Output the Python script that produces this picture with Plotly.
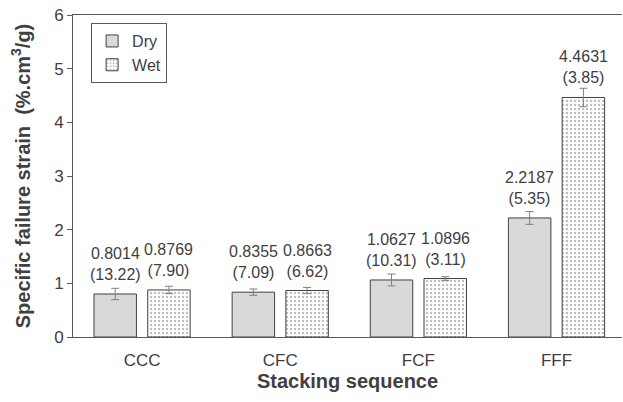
import plotly.graph_objects as go

categories = ["CCC", "CFC", "FCF", "FFF"]
dry_mean = [0.8014, 0.8355, 1.0627, 2.2187]
wet_mean = [0.8769, 0.8663, 1.0896, 4.4631]
dry_cv = ["13.22", "7.09", "10.31", "5.35"]
wet_cv = ["7.90", "6.62", "3.11", "3.85"]
dry_err = [0.106, 0.059, 0.110, 0.119]
wet_err = [0.069, 0.057, 0.034, 0.172]
y_ticks = [0, 1, 2, 3, 4, 5, 6]

FONT = "Arial, Liberation Sans, sans-serif"
TXT = "#404040"
AX = "#595959"
BARGAP = 0.222
BARGROUPGAP = 0.21

fig = go.Figure()
fig.add_trace(go.Bar(
    name="Dry", x=categories, y=dry_mean,
    marker=dict(color="#d9d9d9", line=dict(color="#404040", width=1)),
    error_y=dict(type="data", array=dry_err, visible=True, color="#7f7f7f", thickness=1, width=4),
))
fig.add_trace(go.Bar(
    name="Wet", x=categories, y=wet_mean,
    marker=dict(color="white", line=dict(color="#404040", width=1),
                pattern=dict(shape=".", fgcolor="#808080", bgcolor="white", size=4, solidity=0.3)),
    error_y=dict(type="data", array=wet_err, visible=True, color="#7f7f7f", thickness=1, width=4),
))

off = (1 - BARGAP) / 4
annotations = []
for i, c in enumerate(categories):
    for sgn, m, cv in ((-1, dry_mean[i], dry_cv[i]), (1, wet_mean[i], wet_cv[i])):
        annotations.append(dict(
            x=i + sgn * off, y=m, xref="x", yref="y",
            text=f"{m:.4f}<br>({cv})", showarrow=False,
            yanchor="bottom", yshift=9,
            font=dict(family=FONT, size=16, color=TXT),
        ))

fig.update_layout(
    width=623, height=402,
    margin=dict(l=73, r=1, t=15, b=65),
    paper_bgcolor="white", plot_bgcolor="white",
    barmode="group", bargap=BARGAP, bargroupgap=BARGROUPGAP,
    font=dict(family=FONT, size=16, color=TXT),
    showlegend=True,
    legend=dict(x=0.033, y=0.975, xanchor="left", yanchor="top",
                bordercolor=AX, borderwidth=1, bgcolor="white",
                font=dict(family=FONT, size=16, color=TXT),
                itemwidth=30, tracegroupgap=0),
    annotations=annotations,
    xaxis=dict(
        range=[-0.5, 3.474], showline=True, linecolor=AX, linewidth=1, mirror=True,
        ticks="outside", ticklen=8, tickcolor="rgba(0,0,0,0)", showgrid=False,
        tickfont=dict(family=FONT, size=17, color=TXT),
        title=dict(text="<b>Stacking sequence</b>", font=dict(family=FONT, size=20, color=TXT), standoff=4),
    ),
    yaxis=dict(
        range=[0, 6], tickvals=y_ticks, showline=True, linecolor=AX, linewidth=1,
        ticks="outside", ticklen=5, tickcolor=AX, showgrid=False, zeroline=False,
        tickfont=dict(family=FONT, size=17, color=TXT),
        title=dict(text="<b>Specific failure strain  (%.cm<sup>3</sup>/g)</b>",
                   font=dict(family=FONT, size=20, color=TXT), standoff=18),
    ),
)

fig.write_html("out.html")
